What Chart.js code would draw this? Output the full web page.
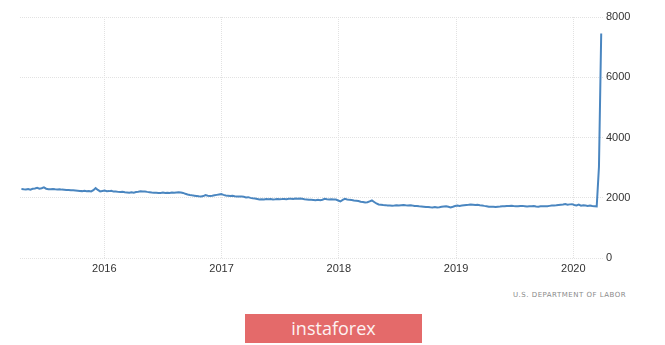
<!DOCTYPE html>
<html>
<head>
<meta charset="utf-8">
<script src="https://cdn.jsdelivr.net/npm/chart.js@4/dist/chart.umd.min.js"></script>
<style>
  html, body { margin: 0; padding: 0; background: #fff; }
  #wrap { position: relative; width: 665px; height: 345px; overflow: hidden; }
  #c { position: absolute; left: 0; top: 0; }
  #src { position: absolute; left: 513px; top: 291px; font: 7px "DejaVu Sans", sans-serif; letter-spacing: 0.5px; color: #8a8a8a; white-space: nowrap; }
  #brand { position: absolute; left: 245px; top: 314px; width: 177px; height: 29px; background: #e46a6a; color: #fdf2f2; font: 18px "Open Sans", sans-serif; text-align: center; line-height: 28px; }
</style>
</head>
<body>
<div id="wrap">
  <canvas id="c" width="665" height="290"></canvas>
  <div id="src">U.S. DEPARTMENT OF LABOR</div>
  <div id="brand">instaforex</div>
</div>
<script>
// Weekly continuing claims (thousands), week ending 2015-04-18 through 2020-03-28
const startWeek = "2015-04-18";
const claims = [
  2287, 2280, 2275, 2290, 2270, 2300, 2310, 2333, 2300, 2315, 2343, 2300, 2280,
  2285, 2290, 2280, 2275, 2280, 2270, 2265, 2255, 2260, 2250, 2245, 2240, 2235, 2225, 2220,
  2230, 2215, 2225, 2210, 2250, 2320, 2260, 2210, 2225, 2240, 2215,
  2220, 2230, 2205, 2210, 2195, 2190, 2200, 2180, 2175, 2167, 2185, 2170, 2190, 2200, 2215, 2205, 2210,
  2195, 2185, 2175, 2170, 2165, 2160, 2160, 2170, 2155, 2165, 2160, 2170, 2165, 2175, 2180, 2177, 2160, 2130, 2110, 2093,
  2080, 2070, 2060, 2050, 2045, 2055, 2087, 2070, 2060, 2065, 2080, 2095, 2110, 2120, 2095, 2077,
  2070, 2060, 2065, 2050, 2040, 2043, 2045, 2030, 2010, 2020, 1995, 1980, 1975, 1960, 1943,
  1950, 1945, 1960, 1950, 1955, 1945, 1950, 1960, 1953, 1955, 1960, 1950, 1965, 1970, 1960, 1975, 1970, 1977,
  1965, 1950, 1945, 1935, 1930, 1925, 1920, 1930, 1920, 1935, 1967, 1950, 1940, 1950, 1945, 1943, 1910, 1877,
  1930, 1967, 1945, 1930, 1925, 1910, 1900, 1890, 1867, 1860, 1843, 1850, 1880, 1910, 1860, 1810, 1777,
  1770, 1760, 1755, 1745, 1740, 1733, 1740, 1750, 1745, 1753, 1760, 1750, 1745, 1753, 1740, 1730, 1725, 1715, 1710,
  1700, 1690, 1695, 1685, 1680, 1690, 1677, 1685, 1700, 1710, 1720, 1700, 1677, 1700, 1725, 1743,
  1730, 1740, 1750, 1760, 1765, 1777, 1770, 1760, 1765, 1750, 1743, 1730, 1720, 1705, 1705,
  1700, 1695, 1705, 1710, 1720, 1715, 1725, 1730, 1733, 1725, 1720, 1715, 1725, 1730, 1720, 1710, 1715, 1720, 1725, 1710, 1705, 1715, 1720,
  1715, 1720, 1730, 1740, 1745, 1750, 1760, 1767, 1775, 1790, 1770, 1780, 1787, 1760, 1743, 1770, 1735, 1750, 1740, 1730, 1745, 1725, 1720, 1715,
  3030, 7455
];
const yearTicks = [2016, 2017, 2018, 2019, 2020];
const valueTicks = [0, 2000, 4000, 6000, 8000];

function decYear(ms) {
  const d = new Date(ms);
  const y = d.getUTCFullYear();
  const s = Date.UTC(y, 0, 1), e = Date.UTC(y + 1, 0, 1);
  return y + (ms - s) / (e - s);
}
const t0 = Date.parse(startWeek + "T00:00:00Z");
const points = claims.map((v, i) => ({ x: decYear(t0 + i * 7 * 86400000), y: v }));

const tickFont = { family: "'Liberation Sans', Arial, sans-serif", size: 11 };
const gridColor = '#e2e2e2';

new Chart(document.getElementById('c'), {
  type: 'line',
  data: {
    datasets: [{
      data: points,
      borderColor: '#4a86c0',
      borderWidth: 2,
      pointRadius: 0,
      tension: 0,
      fill: false
    }]
  },
  options: {
    responsive: false,
    animation: false,
    devicePixelRatio: 1,
    layout: { padding: { left: 20, top: 17, right: 0, bottom: 0 } },
    plugins: { legend: { display: false }, tooltip: { enabled: false } },
    scales: {
      x: {
        type: 'linear',
        min: 2015.281,
        max: 2020.253,
        afterBuildTicks: s => { s.ticks = yearTicks.map(v => ({ value: v })); },
        afterFit: s => { s.height = 32; },
        ticks: { color: '#333', font: tickFont, padding: 4, callback: v => String(v), maxRotation: 0 },
        grid: { color: gridColor, drawTicks: false },
        border: { display: false, dash: [1, 1] }
      },
      y: {
        position: 'right',
        min: 0,
        max: 8000,
        afterBuildTicks: s => { s.ticks = valueTicks.map(v => ({ value: v })); },
        afterFit: s => { s.width = 62; },
        ticks: { color: '#333', font: tickFont, padding: 3, callback: v => String(v) },
        grid: { color: gridColor, drawTicks: false },
        border: { display: false, dash: [1, 1] }
      }
    }
  }
});
</script>
</body>
</html>
